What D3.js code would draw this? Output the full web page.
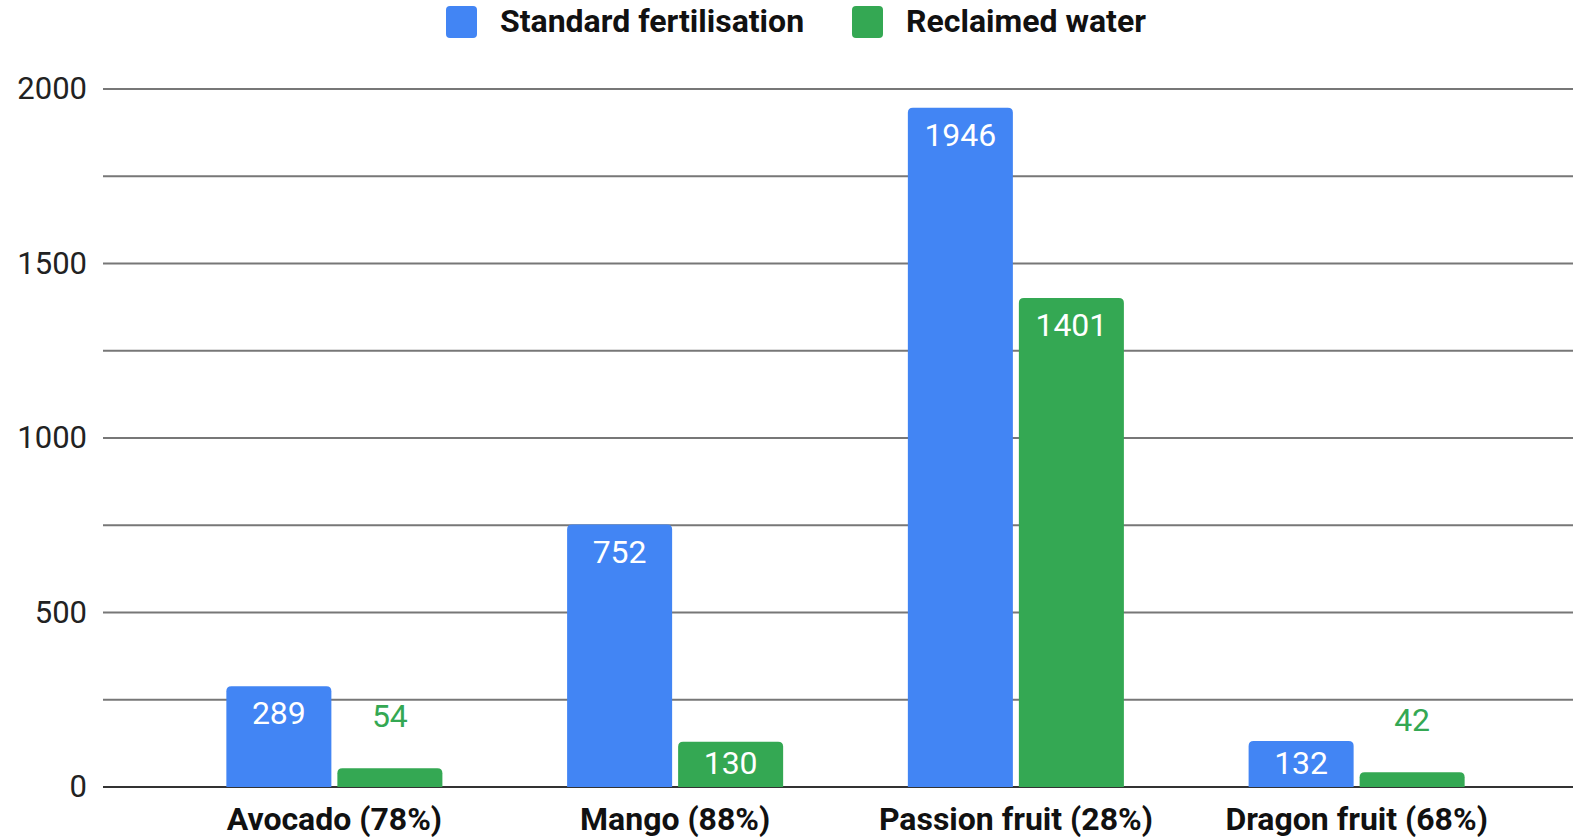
<!DOCTYPE html>
<html>
<head>
<meta charset="utf-8">
<script src="https://cdn.jsdelivr.net/npm/d3@7"></script>
<style>
  body { margin: 0; background: #fff; }
  svg { display: block; font-family: Roboto, sans-serif; }
</style>
</head>
<body>
<script>
(() => {
    const categories = ["Avocado (78%)", "Mango (88%)", "Passion fruit (28%)", "Dragon fruit (68%)"]
    const series = ["Standard fertilisation", "Reclaimed water"]
    const standard = [289, 752, 1946, 132]
    const reclaimed = [54, 130, 1401, 42]
    const yTicks = [0, 500, 1000, 1500, 2000]
    const gridTicks = [0, 250, 500, 750, 1000, 1250, 1500, 1750, 2000]
    const colors = ["#4285F4", "#34A853"]

    const width = 1573
    const height = 840

    const svg = d3.select("body")
        .append("svg")
        .attr("width", width)
        .attr("height", height)

    const y = d3.scaleLinear().domain([0, 2000]).range([787, 89])
    const x0 = d3.scaleBand().domain(categories).range([164, 1527])
        .paddingInner(0.366).paddingOuter(0.183)
    const x1 = d3.scaleBand().domain(series).range([0, x0.bandwidth()])
        .paddingInner(0.054)

    // grid lines
    svg.append("g")
        .selectAll("line")
        .data(gridTicks)
        .join("line")
        .attr("x1", 103)
        .attr("x2", width)
        .attr("y1", (d) => y(d))
        .attr("y2", (d) => y(d))
        .attr("stroke", (d) => d === 0 ? "#333" : "#777")
        .attr("stroke-width", 2)

    // y axis labels
    const yAxis = d3.axisLeft(y).tickValues(yTicks).tickFormat(d3.format("d"))
        .tickSize(0).tickPadding(0)
    const ya = svg.append("g")
        .attr("transform", "translate(87,0)")
        .call(yAxis)
    ya.select(".domain").remove()
    ya.selectAll("text")
        .attr("font-size", 31)
        .attr("font-family", "Roboto, sans-serif")
        .attr("fill", "#222")

    // bars
    const rows = categories.map((c, i) => ({ cat: c, vals: [standard[i], reclaimed[i]] }))
    const r = 5
    const barPath = (x, yTop, w, yBase) => {
        const h = yBase - yTop
        const rr = Math.min(r, h, w / 2)
        return `M${x},${yBase}V${yTop + rr}Q${x},${yTop} ${x + rr},${yTop}H${x + w - rr}Q${x + w},${yTop} ${x + w},${yTop + rr}V${yBase}Z`
    }

    const groups = svg.append("g")
        .selectAll("g")
        .data(rows)
        .join("g")
        .attr("transform", (d) => `translate(${x0(d.cat)},0)`)

    const items = groups.selectAll("g")
        .data((d) => d.vals.map((v, j) => ({ s: series[j], v, j })))
        .join("g")

    items.append("path")
        .attr("fill", (d) => colors[d.j])
        .attr("d", (d) => barPath(x1(d.s), y(d.v), x1.bandwidth(), y(0)))

    const inside = (d) => (y(0) - y(d.v)) > 40
    items.append("text")
        .attr("x", (d) => x1(d.s) + x1.bandwidth() / 2)
        .attr("y", (d) => inside(d) ? Math.min(y(d.v) + 38, y(0) - 13) : y(d.v) - 41)
        .attr("text-anchor", "middle")
        .attr("font-size", 32)
        .attr("fill", (d) => inside(d) ? "#fff" : colors[d.j])
        .text((d) => d.v)

    // category labels
    const xa = svg.append("g")
        .attr("transform", "translate(0,787)")
        .call(d3.axisBottom(x0).tickSize(0).tickPadding(0))
    xa.select(".domain").remove()
    xa.selectAll("text")
        .attr("dy", null)
        .attr("y", 43)
        .attr("font-size", 32)
        .attr("font-weight", "bold")
        .attr("font-family", "Roboto, sans-serif")
        .attr("fill", "#111")

    // legend
    const legendX = [446, 852]
    const legend = svg.append("g")
        .selectAll("g")
        .data(series)
        .join("g")
        .attr("transform", (d, i) => `translate(${legendX[i]},6)`)
    legend.append("rect")
        .attr("width", 31)
        .attr("height", 32)
        .attr("rx", 4)
        .attr("fill", (d, i) => colors[i])
    legend.append("text")
        .attr("x", 54)
        .attr("y", 26)
        .attr("font-size", 32)
        .attr("font-weight", "bold")
        .attr("fill", "#111")
        .text((d) => d)
})()
</script>
</body>
</html>
